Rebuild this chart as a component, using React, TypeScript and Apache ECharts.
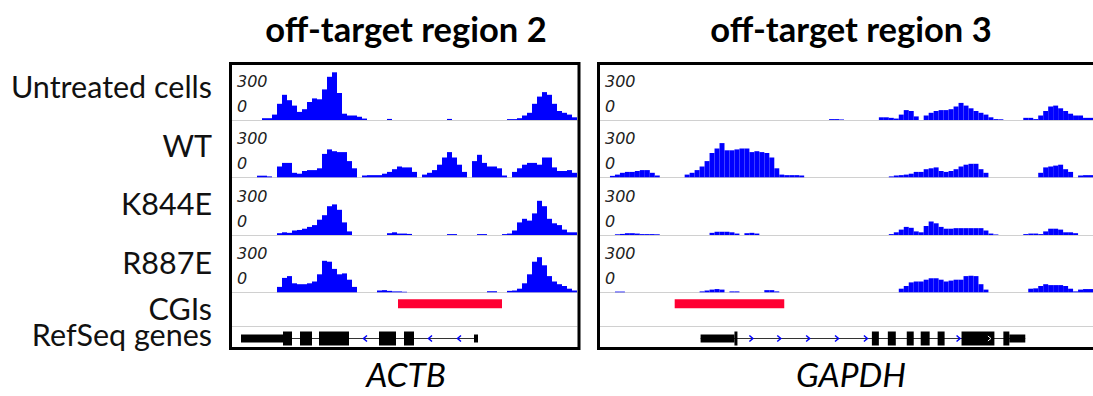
import React, { useEffect, useRef } from "react";
import * as echarts from "echarts";

// ---------- data ----------
const trackLabels = ["Untreated cells", "WT", "K844E", "R887E"];
const annotationLabels = ["CGIs", "RefSeq genes"];
const regionTitles = ["off-target region 2", "off-target region 3"];
const geneNames = ["ACTB", "GAPDH"];
const scaleTicks = ["300", "0"];
const scaleMax = 300;

// region 2 (ACTB), 69 bins
const region2Untreated = [0,0,0,0,0,0,10,10,30,90, 140,110,80,45,60,100,120,115,170,240, 265,150,35,25,25,18,8,0,0,0, 0,6,0,0,0,0,0,0,0,0, 0,0,0,6,0,0,0,0,0,0, 0,0,0,0,0,5,5,10,25,40, 90,130,155,140,90,50,40,30,15];
const region2WT = [0,0,0,0,0,9,9,5,0,60, 80,80,25,20,35,40,40,50,130,155, 145,140,140,90,50,0,10,12,12,12, 20,30,45,60,55,55,30,0,15,25, 40,70,110,140,110,70,30,0,90,125, 80,60,60,50,10,0,30,50,70,80, 80,70,110,110,55,35,35,40,25];
const region2K844E = [0,0,0,0,0,0,0,0,0,10, 15,12,25,28,35,45,55,85,110,160, 170,140,70,20,0,0,0,0,0,0, 0,10,15,8,8,6,0,0,0,0, 0,0,0,5,5,0,0,0,0,5, 5,0,0,0,5,8,25,70,90,80, 120,190,160,90,65,55,30,15,15];
const region2R887E = [0,0,0,0,0,0,0,0,0,30, 80,90,50,45,45,50,60,100,175,170, 130,100,105,70,30,0,0,0,0,10, 12,8,5,5,3,0,0,0,0,0, 0,0,0,0,0,0,0,0,0,0, 0,6,6,0,0,8,10,20,50,100, 170,195,150,90,60,45,35,20,10];

// region 3 (GAPDH), 99 bins
const region3Untreated = [0,0,0,0,0,0,0,0,0,0, 0,0,0,0,0,0,0,0,0,0, 0,0,0,0,0,0,0,0,0,0, 0,0,0,0,0,0,0,0,0,0, 0,0,0,0,0,0,5,5,3,0, 0,0,0,0,0,0,15,15,12,8, 30,55,50,20,0,25,40,50,55,55, 60,75,95,80,65,50,40,30,15,5, 4,0,0,0,0,12,12,5,25,50, 75,80,65,50,35,25,25,12,12];
const region3WT = [0,0,8,15,25,30,30,35,40,40, 25,10,0,0,0,0,0,15,25,40, 60,90,135,160,190,150,150,155,160,160, 140,145,140,135,110,50,15,12,12,12, 10,0,0,0,0,0,0,0,0,0, 0,0,0,0,0,0,0,0,5,10, 12,15,20,30,30,45,50,55,35,30, 35,45,60,70,75,75,45,25,0,0, 0,0,0,0,0,0,0,0,25,55, 60,65,70,45,30,0,10,12,12];
const region3K844E = [0,0,0,4,6,10,10,8,5,5, 5,4,0,0,0,0,0,0,0,0, 0,0,12,18,18,18,15,8,0,10, 12,8,0,0,0,0,0,0,0,0, 0,0,0,0,0,0,0,0,0,0, 0,0,0,0,0,0,0,0,5,15, 30,45,40,20,15,50,75,65,45,35, 35,38,38,38,38,38,38,25,8,3, 0,0,0,0,0,5,8,8,5,20, 35,35,30,15,15,10,0,0,0];
const region3R887E = [0,0,0,4,4,0,0,0,0,0, 0,0,0,0,0,0,0,0,0,0, 5,10,15,18,15,0,5,5,0,0, 0,0,0,12,12,5,0,0,0,0, 0,0,0,0,0,0,0,0,0,0, 0,0,0,0,0,0,0,0,0,0, 20,35,55,60,60,70,78,78,70,60, 65,70,70,90,92,90,45,15,0,0, 0,0,0,0,0,0,20,22,35,45, 40,40,40,35,20,5,15,18,18];

// CpG islands: [start, end] in position units from panel start
const region2CGIs = [[166, 270]];
const region3CGIs = [[75, 185]];

// RefSeq: blocks [start, end, coding(1) / UTR(0)], introns [start, end], arrow positions
const actbBlocks = [[9, 51, 0], [51, 60, 1], [68, 80, 1], [87, 117, 1], [147, 164, 1], [172, 182, 1], [242, 246, 0]];
const actbIntrons = [[9, 246]];
const actbArrows = [133, 198, 227];
const actbExonArrows: number[] = [];
const gapdhBlocks = [[101, 135, 0], [135, 138, 1], [273, 280, 1], [289, 297, 1], [308, 315, 1], [322, 331, 1], [339, 346, 1], [363, 396, 1], [405, 411, 1], [411, 427, 0]];
const gapdhIntrons = [[101, 427]];
const gapdhArrows = [152, 180, 209, 238, 267, 360];
const gapdhExonArrows = [391];

// ---------- layout ----------
const BIN = 5;
const TRACK_H = 54;
const baselines = [120, 177.3, 235, 292.3];
const panels = [
  {
    x: 232, bins: 69, centerX: 406, boxX: 230.5, boxW: 348.5,
    tracks: [region2Untreated, region2WT, region2K844E, region2R887E],
    cgis: region2CGIs, blocks: actbBlocks, introns: actbIntrons, arrows: actbArrows, exonArrows: actbExonArrows,
    strand: -1, title: regionTitles[0], gene: geneNames[0],
  },
  {
    x: 600, bins: 99, centerX: 851, boxX: 598.5, boxW: 530,
    tracks: [region3Untreated, region3WT, region3K844E, region3R887E],
    cgis: region3CGIs, blocks: gapdhBlocks, introns: gapdhIntrons, arrows: gapdhArrows, exonArrows: gapdhExonArrows,
    strand: 1, title: regionTitles[1], gene: geneNames[1],
  },
];

const LABEL_FONT = '30.5px Lato, "Noto Sans", sans-serif';
const SCALE_FONT = 'italic 16px "DejaVu Sans", sans-serif';

function buildOption() {
  const grid: any[] = [];
  const xAxis: any[] = [];
  const yAxis: any[] = [];
  const series: any[] = [];
  const graphic: any[] = [];

  panels.forEach((p) => {
    const width = p.bins * BIN;
    p.tracks.forEach((vals, ti) => {
      const gi = grid.length;
      grid.push({ left: p.x, top: baselines[ti] - TRACK_H, width, height: TRACK_H });
      xAxis.push({
        type: "category", gridIndex: gi, data: vals.map((_, i) => i), boundaryGap: true,
        axisLine: { show: true, lineStyle: { color: "#d0d0d0", width: 1 } },
        axisTick: { show: false }, axisLabel: { show: false }, splitLine: { show: false },
      });
      yAxis.push({ type: "value", gridIndex: gi, min: 0, max: scaleMax, show: false });
      series.push({
        type: "bar", xAxisIndex: gi, yAxisIndex: gi, data: vals,
        barCategoryGap: "0%", barGap: "0%", itemStyle: { color: "#0000ff" }, silent: true,
      });
      scaleTicks.forEach((t, k) => {
        graphic.push({
          type: "text", x: p.x + 5, y: baselines[ti] - (k === 0 ? 38.5 : 13.8), silent: true,
          style: { text: t, font: SCALE_FONT, fill: "#222", textAlign: "left", textVerticalAlign: "middle", lineHeight: 14 },
        });
      });
    });

    // CGI track
    const cgiGrid = grid.length;
    grid.push({ left: p.x, top: 292.3, width, height: 34 });
    xAxis.push({
      type: "value", gridIndex: cgiGrid, min: 0, max: width,
      axisLine: { show: true, onZero: false, lineStyle: { color: "#d0d0d0", width: 1 } },
      axisTick: { show: false }, axisLabel: { show: false }, splitLine: { show: false },
    });
    yAxis.push({ type: "value", gridIndex: cgiGrid, min: 0, max: 1, show: false });
    series.push({
      type: "custom", xAxisIndex: cgiGrid, yAxisIndex: cgiGrid, data: p.cgis, silent: true,
      renderItem: (params: any, api: any) => {
        const s = api.coord([api.value(0), 0])[0];
        const e = api.coord([api.value(1), 0])[0];
        const cs = params.coordSys;
        return { type: "rect", shape: { x: s, y: cs.y + 7, width: e - s, height: 9 }, style: { fill: "#ff0033" } };
      },
    });

    // RefSeq track
    const gg = grid.length;
    grid.push({ left: p.x, top: 326, width, height: 23 });
    xAxis.push({ type: "value", gridIndex: gg, min: 0, max: width, show: false });
    yAxis.push({ type: "value", gridIndex: gg, min: 0, max: 1, show: false });
    series.push({
      type: "custom", xAxisIndex: gg, yAxisIndex: gg, data: p.introns, silent: true, z: 2,
      renderItem: (params: any, api: any) => {
        const s = api.coord([api.value(0), 0])[0];
        const e = api.coord([api.value(1), 0])[0];
        const cs = params.coordSys;
        const cy = Math.round(cs.y + cs.height / 2) + 0.5;
        return { type: "line", shape: { x1: s, y1: cy, x2: e, y2: cy }, style: { stroke: "#333", lineWidth: 1 } };
      },
    });
    series.push({
      type: "custom", xAxisIndex: gg, yAxisIndex: gg, data: p.arrows.map((v) => [v]), silent: true, z: 3,
      renderItem: (params: any, api: any) => {
        const x = api.coord([api.value(0), 0])[0];
        const cs = params.coordSys;
        const cy = Math.round(cs.y + cs.height / 2) + 0.5;
        const d = p.strand;
        return {
          type: "polyline",
          shape: { points: [[x - 2 * d, cy - 3], [x + 1.5 * d, cy], [x - 2 * d, cy + 3]] },
          style: { stroke: "#0000ff", lineWidth: 1.5, fill: "none" },
        };
      },
    });
    series.push({
      type: "custom", xAxisIndex: gg, yAxisIndex: gg, data: p.blocks, silent: true, z: 4,
      renderItem: (params: any, api: any) => {
        const s = api.coord([api.value(0), 0])[0];
        const e = api.coord([api.value(1), 0])[0];
        const cs = params.coordSys;
        const cy = Math.round(cs.y + cs.height / 2) + 0.5;
        const h = api.value(2) ? 14 : 8;
        return { type: "rect", shape: { x: s, y: cy - h / 2, width: e - s, height: h }, style: { fill: "#000" } };
      },
    });
    series.push({
      type: "custom", xAxisIndex: gg, yAxisIndex: gg, data: p.exonArrows.map((v) => [v]), silent: true, z: 5,
      renderItem: (params: any, api: any) => {
        const x = api.coord([api.value(0), 0])[0];
        const cs = params.coordSys;
        const cy = Math.round(cs.y + cs.height / 2) + 0.5;
        const d = p.strand;
        return {
          type: "polyline",
          shape: { points: [[x - 1.5 * d, cy - 2.5], [x + 1.5 * d, cy], [x - 1.5 * d, cy + 2.5]] },
          style: { stroke: "#ffffff", lineWidth: 1, fill: "none" },
        };
      },
    });

    // panel border
    graphic.push({
      type: "rect", silent: true, z: 100,
      shape: { x: p.boxX, y: 63.5, width: p.boxW, height: 285 },
      style: { fill: "none", stroke: "#000", lineWidth: 3 },
    });
    // title
    graphic.push({
      type: "text", x: p.centerX, y: 28.6, silent: true,
      style: { text: p.title, font: 'bold 34.5px Lato, "Noto Sans", sans-serif', fill: "#000", textAlign: "center", textVerticalAlign: "middle" },
    });
    // gene name
    graphic.push({
      type: "text", x: p.centerX, y: 374, silent: true,
      style: { text: p.gene, font: 'italic 33.5px Lato, "Noto Sans", sans-serif', fill: "#000", textAlign: "center", textVerticalAlign: "middle" },
    });
  });

  const labelBaselines = [94.5, 153.5, 212, 271];
  trackLabels.forEach((t, i) => {
    graphic.push({
      type: "text", x: 212, y: labelBaselines[i] - 8.8, silent: true,
      style: { text: t, font: LABEL_FONT, fill: "#111", textAlign: "right", textVerticalAlign: "middle", lineHeight: 24 },
    });
  });
  const annBaselines = [317, 343];
  annotationLabels.forEach((t, i) => {
    graphic.push({
      type: "text", x: 212, y: annBaselines[i] - 8.8, silent: true,
      style: { text: t, font: LABEL_FONT, fill: "#111", textAlign: "right", textVerticalAlign: "middle", lineHeight: 24 },
    });
  });

  return {
    animation: false,
    backgroundColor: "#ffffff",
    grid, xAxis, yAxis, series, graphic,
  };
}

export default function App() {
  const ref = useRef<HTMLDivElement>(null);
  useEffect(() => {
    if (!ref.current) return;
    const chart = echarts.init(ref.current, undefined, { renderer: "svg" });
    chart.setOption(buildOption() as any);
    return () => chart.dispose();
  }, []);
  return (
    <div
      ref={ref}
      style={{ position: "fixed", left: 0, top: 0, width: 1093, height: 396, background: "#fff" }}
    />
  );
}
